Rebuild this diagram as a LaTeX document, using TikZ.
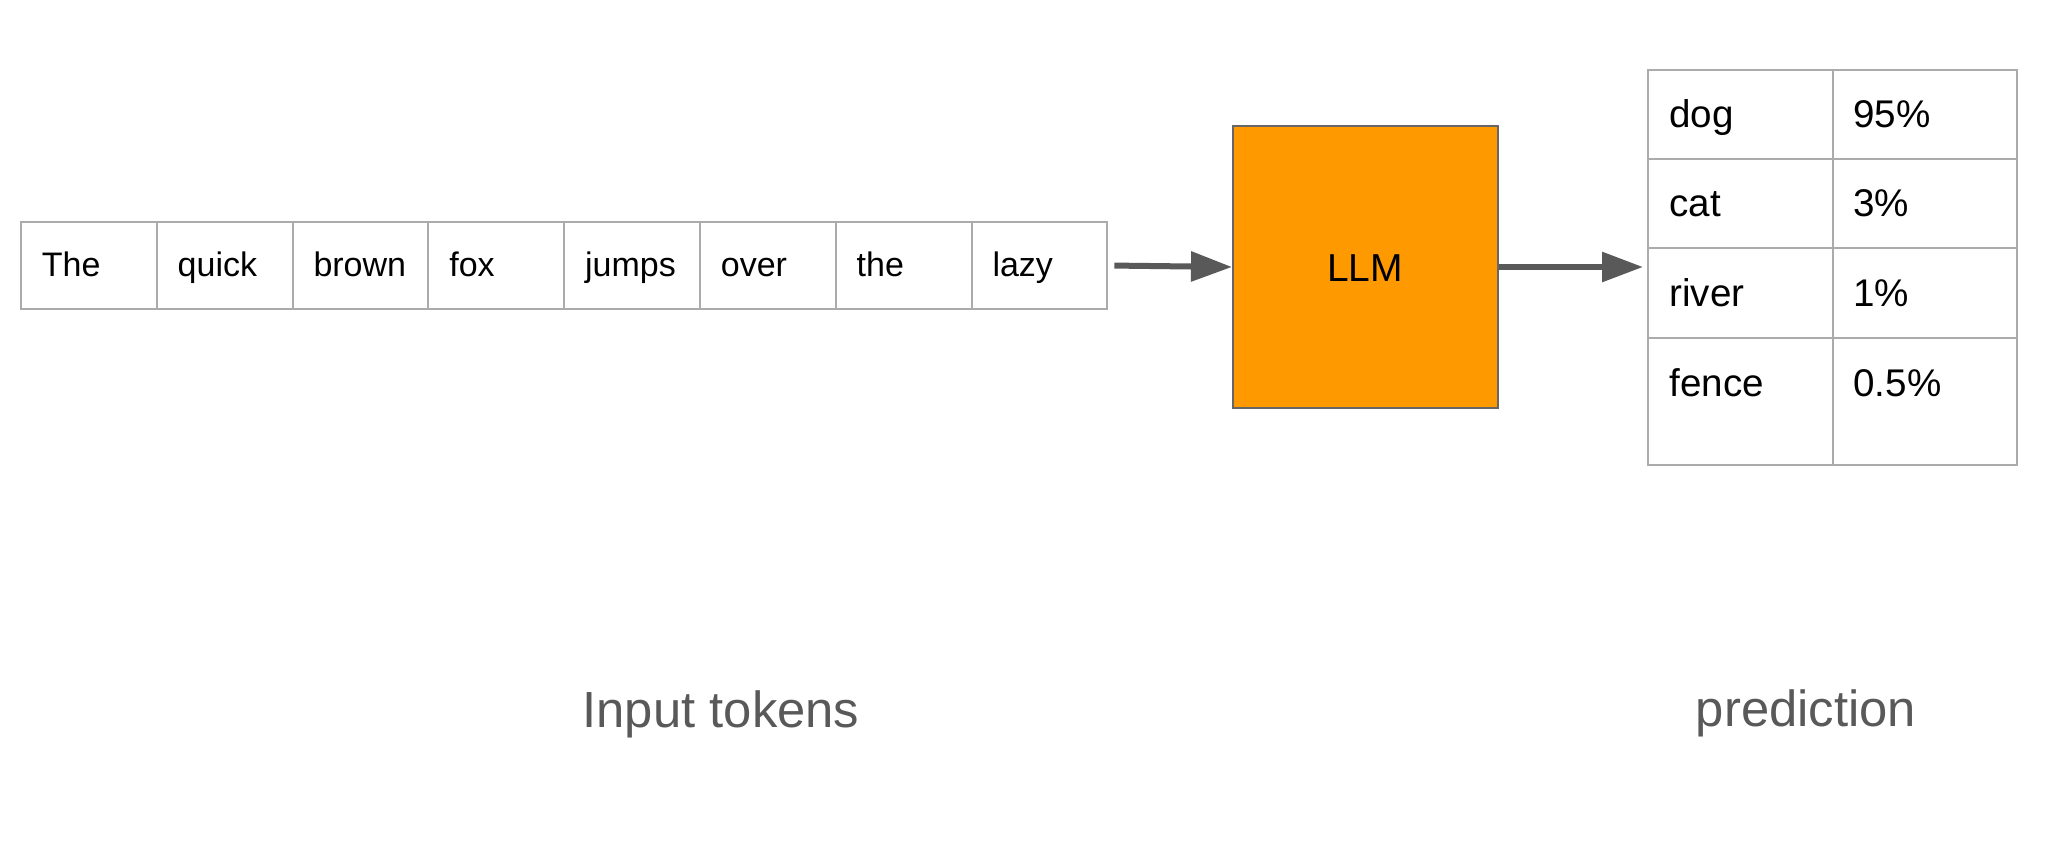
\documentclass[tikz,border=0pt]{standalone}
\usepackage{fontspec}
\setmainfont{Liberation Sans}
\usetikzlibrary{arrows.meta}
\definecolor{cellgray}{HTML}{ABABAB}
\definecolor{arrgray}{HTML}{595959}
\definecolor{llmorange}{HTML}{FF9900}
\definecolor{llmborder}{HTML}{666666}
\definecolor{labelgray}{HTML}{595959}
\begin{document}
\begin{tikzpicture}[x=0.5pt,y=-0.5pt,
  tokcell/.style={draw=cellgray, line width=1pt, minimum width=67.9pt, minimum height=43.5pt, inner sep=0pt, anchor=north west},
  toktext/.style={font=\fontsize{17}{20}\selectfont, inner sep=0pt, anchor=base west},
  tabcell/.style={draw=cellgray, line width=1pt, inner sep=0pt, anchor=north west},
  tabtext/.style={font=\fontsize{19.3}{23}\selectfont, inner sep=0pt, anchor=base west},
  llmbox/.style={draw=llmborder, fill=llmorange, line width=1pt, minimum width=132.5pt, minimum height=141pt, inner sep=0pt, anchor=north west, font=\fontsize{19.5}{23}\selectfont},
  arr/.style={draw=arrgray, line width=3pt, -{Triangle[length=20.5pt,width=14.5pt]}},
  caption/.style={font=\fontsize{25.4}{30}\selectfont, text=labelgray, inner sep=0pt, anchor=base}
]
\useasboundingbox (0,0) rectangle (2048,845);

% input tokens
\foreach \w [count=\i] in {The,quick,brown,fox,jumps,over,the,lazy}{
  \node[tokcell] (tok\i) at ({20+135.8*(\i-1)},221) {};
  \node[toktext] (tokt\i) at ({41.5+135.8*(\i-1)},276) {\w};
}

% LLM
\node[llmbox] (llm) at (1232,125) {};
\node[font=\fontsize{19.5}{23}\selectfont, inner sep=0pt, anchor=base] (llmt) at (1365,281) {LLM};

% prediction table
\node[tabcell, minimum width=92.5pt, minimum height=44.5pt] (w1) at (1647,69) {};
\node[tabcell, minimum width=92pt, minimum height=44.5pt] (v1) at (1832,69) {};
\node[tabcell, minimum width=92.5pt, minimum height=44.5pt] (w2) at (1647,158) {};
\node[tabcell, minimum width=92pt, minimum height=44.5pt] (v2) at (1832,158) {};
\node[tabcell, minimum width=92.5pt, minimum height=45pt] (w3) at (1647,247) {};
\node[tabcell, minimum width=92pt, minimum height=45pt] (v3) at (1832,247) {};
\node[tabcell, minimum width=92.5pt, minimum height=63.5pt] (w4) at (1647,337) {};
\node[tabcell, minimum width=92pt, minimum height=63.5pt] (v4) at (1832,337) {};

\node[tabtext] (w1t) at (1669,128) {dog};
\node[tabtext] (v1t) at (1853,128) {95\%};
\node[tabtext] (w2t) at (1669,217) {cat};
\node[tabtext] (v2t) at (1853,217) {3\%};
\node[tabtext] (w3t) at (1669,306) {river};
\node[tabtext] (v3t) at (1853,306) {1\%};
\node[tabtext] (w4t) at (1669,396) {fence};
\node[tabtext] (v4t) at (1853,396) {0.5\%};

% arrows
\draw[arr, shorten <=3pt] (tok8.east) -- (llm.west);
\draw[arr, shorten >=2pt] (llm.east) -- (llm.east -| w3.west);

% captions
\node[caption] (capin) at (721,727) {Input tokens};
\node[caption] (cappred) at (1806,726) {prediction};
\end{tikzpicture}
\end{document}
